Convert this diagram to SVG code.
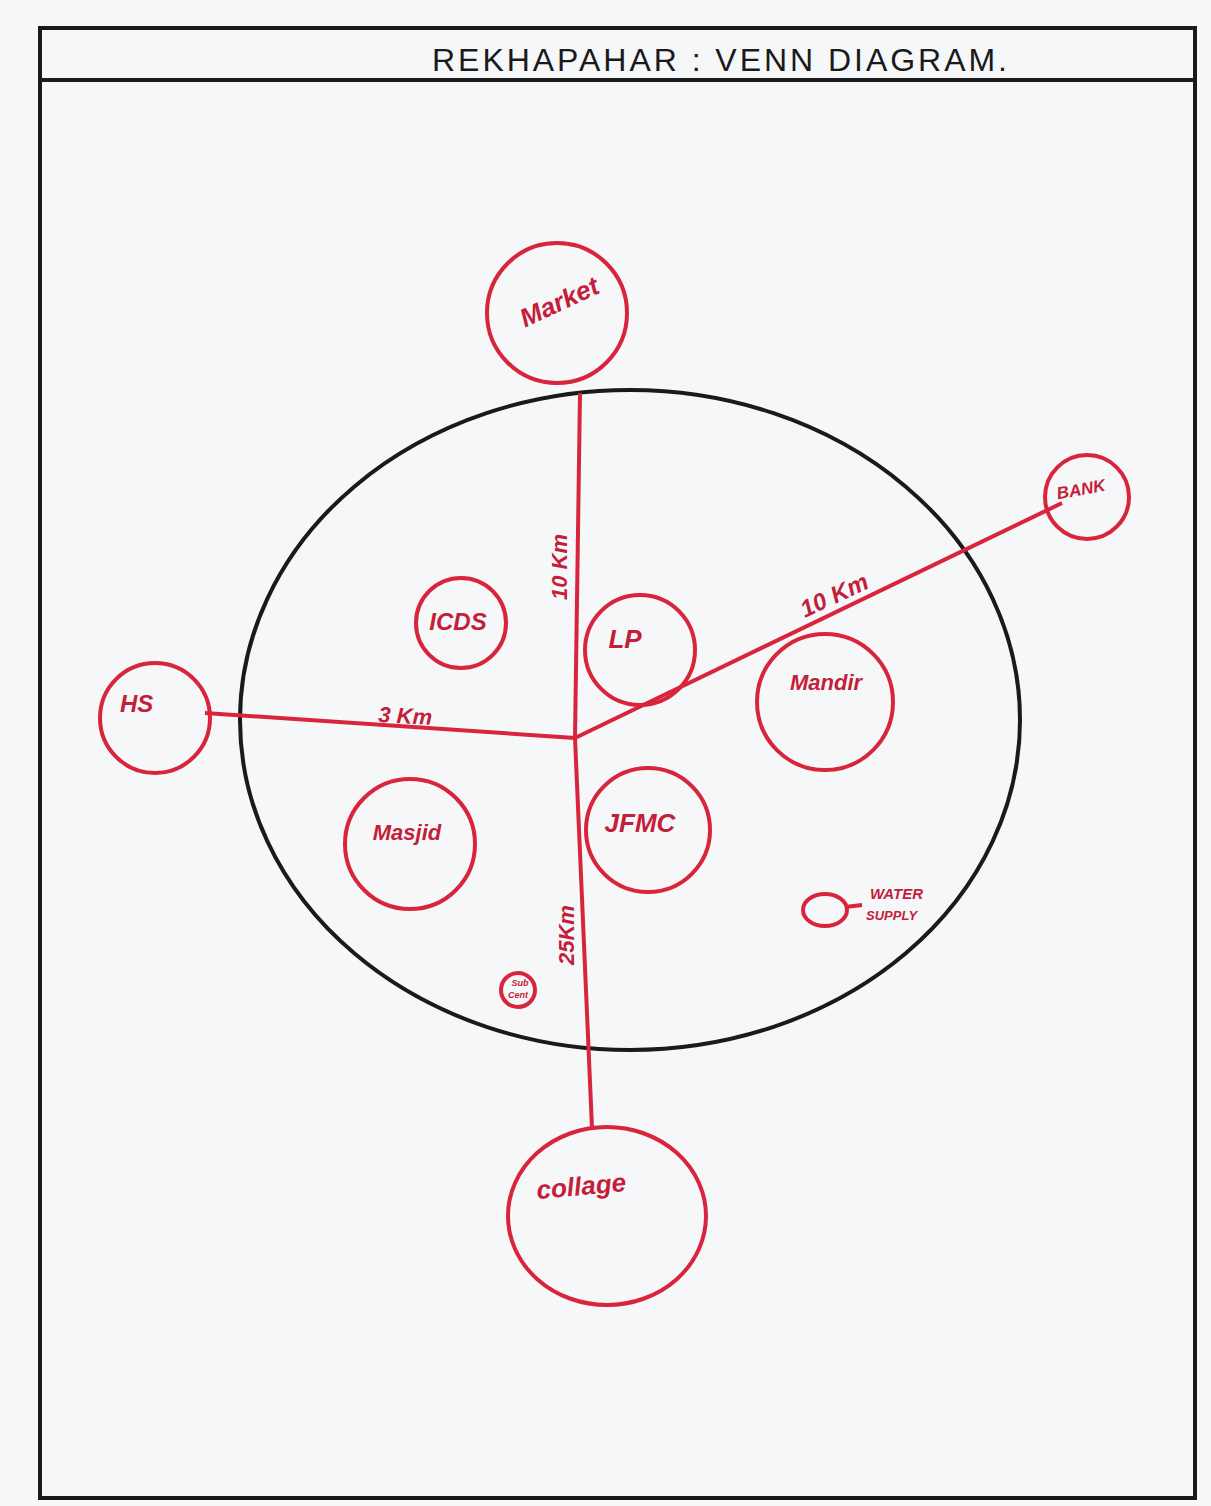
<svg xmlns="http://www.w3.org/2000/svg" width="1211" height="1506" viewBox="0 0 1211 1506">
<style>
.red{fill:none;stroke:#d8253c;stroke-width:4}
.blk{fill:none;stroke:#1a1a1a;stroke-width:4}
.lbl{font-family:"Liberation Sans",Arial,sans-serif;font-style:italic;fill:#c41e3a;font-weight:bold}
.title{font-family:"Liberation Sans",Arial,sans-serif;fill:#1a1a1a;font-size:32px}
</style>
<rect width="1211" height="1506" fill="#f5f7f9"/>
<g id="frame">
<rect x="40" y="28" width="1155" height="1470" class="blk"/>
<line x1="40" y1="80" x2="1195" y2="80" class="blk"/>
<text x="432" y="71" class="title" textLength="575" lengthAdjust="spacing">REKHAPAHAR : VENN DIAGRAM.</text>
</g>
<g id="village"><ellipse cx="630" cy="720" rx="390" ry="330" class="blk"/></g>
<g id="connectors">
<line x1="580" y1="393" x2="575" y2="738" class="red"/>
<line x1="575" y1="738" x2="592" y2="1128" class="red"/>
<line x1="205" y1="713" x2="575" y2="738" class="red"/>
<line x1="575" y1="738" x2="1062" y2="503" class="red"/>
<line x1="845" y1="907" x2="862" y2="905" class="red"/>
<text class="lbl" font-size="22" transform="translate(567,600) rotate(-90)">10 Km</text>
<text class="lbl" font-size="22" transform="translate(574,965) rotate(-90)">25Km</text>
<text class="lbl" font-size="22" transform="translate(378,722) rotate(3)">3 Km</text>
<text class="lbl" font-size="24" transform="translate(805,618) rotate(-25)">10 Km</text>
</g>
<g id="market"><circle cx="557" cy="313" r="70" class="red"/><text class="lbl" font-size="26" text-anchor="middle" transform="translate(563,310) rotate(-25)">Market</text></g>
<g id="hs"><circle cx="155" cy="718" r="55" class="red"/><text class="lbl" font-size="24" x="120" y="712">HS</text></g>
<g id="bank"><circle cx="1087" cy="497" r="42" class="red"/><text class="lbl" font-size="17" text-anchor="middle" transform="translate(1082,495) rotate(-10)">BANK</text></g>
<g id="collage"><ellipse cx="607" cy="1216" rx="99" ry="89" class="red"/><text class="lbl" font-size="26" text-anchor="middle" transform="translate(582,1195) rotate(-5)">collage</text></g>
<g id="icds"><circle cx="461" cy="623" r="45" class="red"/><text class="lbl" font-size="24" text-anchor="middle" x="458" y="630">ICDS</text></g>
<g id="lp"><circle cx="640" cy="650" r="55" class="red"/><text class="lbl" font-size="26" text-anchor="middle" x="625" y="648">LP</text></g>
<g id="mandir"><circle cx="825" cy="702" r="68" class="red"/><text class="lbl" font-size="22" text-anchor="middle" x="826" y="690">Mandir</text></g>
<g id="masjid"><circle cx="410" cy="844" r="65" class="red"/><text class="lbl" font-size="22" text-anchor="middle" x="407" y="840">Masjid</text></g>
<g id="jfmc"><circle cx="648" cy="830" r="62" class="red"/><text class="lbl" font-size="26" text-anchor="middle" x="640" y="832">JFMC</text></g>
<g id="water"><ellipse cx="825" cy="910" rx="22" ry="16" class="red"/><text class="lbl" font-size="15" x="870" y="899">WATER</text><text class="lbl" font-size="13" x="866" y="920">SUPPLY</text></g>
<g id="subcentre"><circle cx="518" cy="990" r="17" class="red"/><text class="lbl" font-size="9" text-anchor="middle" x="520" y="986">Sub</text><text class="lbl" font-size="9" text-anchor="middle" x="518" y="998">Cent</text></g>
</svg>
